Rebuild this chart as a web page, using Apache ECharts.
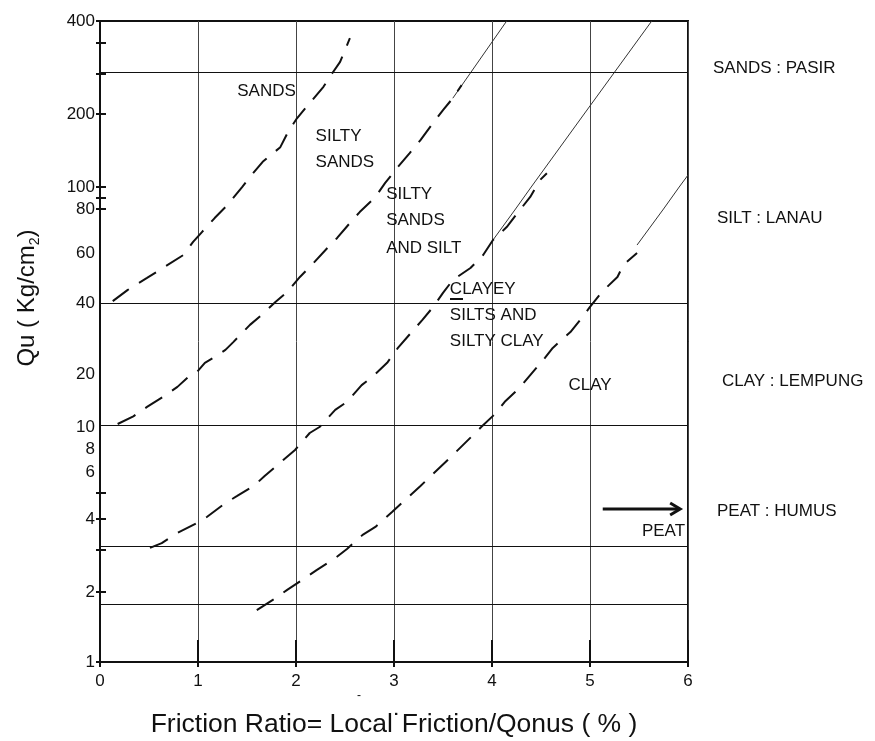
<!DOCTYPE html>
<html><head><meta charset="utf-8">
<script src="https://cdn.jsdelivr.net/npm/echarts@6/dist/echarts.min.js"></script>
<style>html,body{margin:0;padding:0;background:#fff}#c{width:875px;height:741px}</style>
</head><body><div id="c"></div>
<script>
// ---------- DATA ----------
const xTickValues = [0, 1, 2, 3, 4, 5, 6];
const yTickLabels = [400, 200, 100, 80, 60, 40, 20, 10, 8, 6, 4, 2, 1];   // labelled Qu values
const yTickMarks  = [400, 340, 270, 200, 100, 90, 80, 5, 4, 3, 2, 1];      // Qu values with tick marks
const yGridLines  = [270, 40, 10, 3, 1.76];                                // horizontal reference lines (Qu)

// hand-drawn Qu scale of the original figure: Qu value -> fraction of axis height
const scaleQu  = [1, 2, 4, 6, 8, 10, 20, 40, 60, 80, 100, 200, 400];
const scalePos = [0, 0.1092, 0.2231, 0.2964, 0.3323, 0.3666, 0.4493, 0.5601, 0.6381, 0.7067, 0.7410, 0.8549, 1];

// boundary curves [friction ratio %, Qu]
const sandsBoundary = [[0.13,40.6],[0.28,44.4],[0.48,49],[0.64,53.1],[0.85,59],[0.95,64.5],[1.04,68.8],[1.17,75.4],[1.30,83.3],[1.45,100],[1.53,110],[1.66,127],[1.84,146],[1.92,169],[2.01,192],[2.14,217],[2.28,245],[2.37,271],[2.45,295],[2.55,352]];
const siltySandsBoundary = [[0.18,10.4],[0.34,11.5],[0.48,13.0],[0.64,14.8],[0.79,16.9],[0.90,19.2],[0.99,20.4],[1.07,22.3],[1.17,23.6],[1.28,25.3],[1.36,27.3],[1.53,32.3],[1.65,35.6],[1.79,40.3],[1.91,43.7],[2.04,49.4],[2.16,54.4],[2.32,62.0],[2.42,66.2],[2.55,73.0],[2.65,78.4],[2.81,90.4],[2.91,104],[3.04,121],[3.16,138],[3.27,156],[3.40,184],[3.50,206],[3.60,225],[3.69,248]];
const clayeySiltBoundary = [[0.51,3.04],[0.63,3.18],[0.77,3.47],[0.99,3.85],[1.09,4.07],[1.28,4.59],[1.40,4.88],[1.58,5.36],[1.68,5.80],[1.87,6.97],[1.99,7.90],[2.14,9.41],[2.24,10],[2.40,12.5],[2.52,13.9],[2.67,17.3],[2.79,19.5],[2.93,22.3],[3.04,25.8],[3.18,30.1],[3.29,33.9],[3.40,38.5],[3.50,43.4],[3.60,48.2],[3.78,53.1],[3.91,59.0],[4.01,65.3],[4.15,71.1],[4.26,77.9],[4.39,90.4],[4.49,106.9],[4.56,114]];
const clayBoundary = [[1.60,1.67],[1.79,1.88],[1.91,2.04],[2.11,2.31],[2.21,2.46],[2.40,2.76],[2.52,3.01],[2.68,3.44],[2.81,3.71],[2.98,4.25],[3.27,5.32],[3.57,7.15],[3.89,10],[4.04,12.0],[4.13,13.9],[4.29,16.9],[4.39,19.7],[4.54,23.4],[4.62,25.8],[4.80,30.1],[4.90,33.9],[5.0,38.5],[5.12,43.7],[5.28,49.4],[5.34,54.4],[5.48,60]];
// thin solid extensions
const siltySandsExt = [[3.60,225],[4.15,400]];
const clayeySiltExt = [[4.01,65.3],[4.24,80],[4.40,100],[4.94,200],[5.63,400]];
const clayExt = [[5.48,63.2],[5.75,80],[5.91,100],[6.0,112]];

// zone annotations
const zoneLabels = ['SANDS','SILTY','SANDS','SILTY','SANDS','AND SILT','CLAYEY','SILTS AND','SILTY CLAY','CLAY','PEAT'];
const zoneLabelX = [1.40, 2.20, 2.20, 2.92, 2.92, 2.92, 3.57, 3.57, 3.57, 4.78, 5.53];
const zoneLabelQu = [236, 162, 127, 93.1, 74.4, 62.0, 44.8, 35.6, 27.6, 17.3, 3.57];
const peatArrow = {from: 5.13, to: 5.92, qu: 4.36};
const legendTexts = ['SANDS : PASIR', 'SILT : LANAU', 'CLAY : LEMPUNG', 'PEAT : HUMUS'];

const xTitle = 'Friction Ratio= Local\u02D9Friction/Qonus ( % )';

// ---------- SCALE ----------
function U(q) {
  let i = 0;
  while (i < scaleQu.length - 2 && q > scaleQu[i + 1]) i++;
  const a = Math.log(scaleQu[i]), b = Math.log(scaleQu[i + 1]);
  return scalePos[i] + (Math.log(q) - a) / (b - a) * (scalePos[i + 1] - scalePos[i]);
}
const toXY = arr => arr.map(p => [p[0], U(p[1])]);
function labelFor(v) {
  const i = yTickLabels.findIndex(q => Math.abs(U(q) - v) < 1e-9);
  return i < 0 ? '' : String(yTickLabels[i]);
}

const FONT = "'Liberation Sans', Arial, sans-serif";
const INK = '#111';
const gridRect = {left: 100, top: 21, right: 187, bottom: 79, containLabel: false, outerBoundsMode: 'none'};

const dashed = [sandsBoundary, siltySandsBoundary, clayeySiltBoundary, clayBoundary].map(d => ({
  type: 'line', xAxisIndex: 0, yAxisIndex: 0, data: toXY(d), symbol: 'none', silent: true,
  lineStyle: {color: INK, width: 2, type: [20, 12]}
}));
const thin = [siltySandsExt, clayeySiltExt, clayExt].map(d => ({
  type: 'line', xAxisIndex: 0, yAxisIndex: 0, data: toXY(d), symbol: 'none', silent: true,
  lineStyle: {color: '#333', width: 1}
}));

const chart = echarts.init(document.getElementById('c'), null, {renderer: 'canvas'});
chart.setOption({
  animation: false,
  backgroundColor: '#fff',
  textStyle: {fontFamily: FONT, color: INK},
  grid: [
    Object.assign({show: true, borderColor: INK, borderWidth: 2, backgroundColor: 'transparent'}, gridRect),
    Object.assign({show: false}, gridRect)
  ],
  xAxis: [{
    type: 'value', gridIndex: 0, min: 0, max: 6, interval: 1,
    axisLine: {show: true, lineStyle: {color: INK, width: 2}},
    axisTick: {show: true, inside: true, length: 22, lineStyle: {color: INK, width: 2}},
    axisLabel: {fontSize: 17, color: INK, margin: 11, fontFamily: FONT,
      formatter: v => xTickValues.includes(v) ? String(v) : ''},
    splitLine: {show: true, lineStyle: {color: '#444', width: 1}},
    name: xTitle, nameLocation: 'middle', nameGap: 49,
    nameTextStyle: {fontSize: 26.5, color: INK, fontFamily: FONT}
  }, {
    type: 'value', gridIndex: 1, min: 0, max: 6, interval: 1,
    axisLine: {show: false},
    axisTick: {show: true, length: 5, lineStyle: {color: INK, width: 2}},
    axisLabel: {show: false}, splitLine: {show: false}
  }],
  yAxis: [{
    type: 'value', gridIndex: 0, min: 0, max: 1,
    axisLine: {show: true, lineStyle: {color: INK, width: 2}},
    axisTick: {show: true, length: 4, customValues: yTickMarks.map(U), lineStyle: {color: INK, width: 2}},
    axisLabel: {customValues: yTickLabels.map(U), formatter: labelFor, fontSize: 17, color: INK,
      margin: 5, fontFamily: FONT, padding: [0, 0, 4, 0]},
    splitLine: {show: false}
  }, {
    type: 'value', gridIndex: 1, min: 0, max: 1,
    axisLine: {show: false},
    axisTick: {show: true, inside: true, length: 6, customValues: yTickMarks.map(U), lineStyle: {color: INK, width: 2}},
    axisLabel: {show: false}, splitLine: {show: false}
  }],
  series: [
    {
      type: 'line', xAxisIndex: 0, yAxisIndex: 0, data: [], silent: true,
      markLine: {
        silent: true, symbol: ['none', 'none'], label: {show: false},
        lineStyle: {color: INK, width: 1, type: 'solid'},
        data: yGridLines.map(q => ({yAxis: U(q)}))
      }
    },
    ...thin,
    ...dashed,
    {
      type: 'custom', coordinateSystem: 'cartesian2d', xAxisIndex: 0, yAxisIndex: 0, silent: true,
      data: [[peatArrow.from, U(peatArrow.qu), peatArrow.to]],
      renderItem: (params, api) => {
        const a = api.coord([api.value(0), api.value(1)]);
        const b = api.coord([api.value(2), api.value(1)]);
        return {type: 'group', children: [
          {type: 'line', shape: {x1: a[0], y1: a[1], x2: b[0] - 1, y2: b[1]}, style: {stroke: INK, lineWidth: 3}},
          {type: 'polyline', shape: {points: [[b[0] - 10, b[1] - 6], [b[0], b[1]], [b[0] - 10, b[1] + 6]]},
            style: {stroke: INK, lineWidth: 3, fill: null}}
        ]};
      }
    },
    {
      type: 'custom', coordinateSystem: 'cartesian2d', xAxisIndex: 0, yAxisIndex: 0, silent: true,
      data: zoneLabels.map((t, i) => [zoneLabelX[i], U(zoneLabelQu[i])]),
      renderItem: (params, api) => {
        const p = api.coord([api.value(0), api.value(1)]);
        return {type: 'text', x: p[0], y: p[1],
          style: {text: zoneLabels[params.dataIndex], font: '17px ' + FONT, fill: INK, align: 'left', verticalAlign: 'middle'}};
      }
    }
  ],
  graphic: [
    {type: 'text', x: 713, y: 68, silent: true, style: {text: legendTexts[0], font: '17px ' + FONT, fill: INK, verticalAlign: 'middle'}},
    {type: 'text', x: 717, y: 218, silent: true, style: {text: legendTexts[1], font: '17px ' + FONT, fill: INK, verticalAlign: 'middle'}},
    {type: 'text', x: 722, y: 381, silent: true, style: {text: legendTexts[2], font: '17px ' + FONT, fill: INK, verticalAlign: 'middle'}},
    {type: 'text', x: 717, y: 511, silent: true, style: {text: legendTexts[3], font: '17px ' + FONT, fill: INK, verticalAlign: 'middle'}},
    {type: 'rect', silent: true, shape: {x: 450, y: 298, width: 13, height: 2}, style: {fill: INK}},
    {type: 'text', x: 357, y: 690, silent: true, style: {text: '-', font: '12px ' + FONT, fill: INK}},
    {type: 'text', x: 27, y: 298, rotation: Math.PI / 2, silent: true,
      style: {text: '{a|Qu ( Kg/cm}{b|2}{a|)}', align: 'center', verticalAlign: 'middle',
        rich: {a: {fontSize: 24, fontFamily: FONT, fill: INK, color: INK, lineHeight: 30},
               b: {fontSize: 14, fontFamily: FONT, fill: INK, color: INK, lineHeight: 14, verticalAlign: 'bottom'}}}}
  ]
});
</script>
</body></html>
